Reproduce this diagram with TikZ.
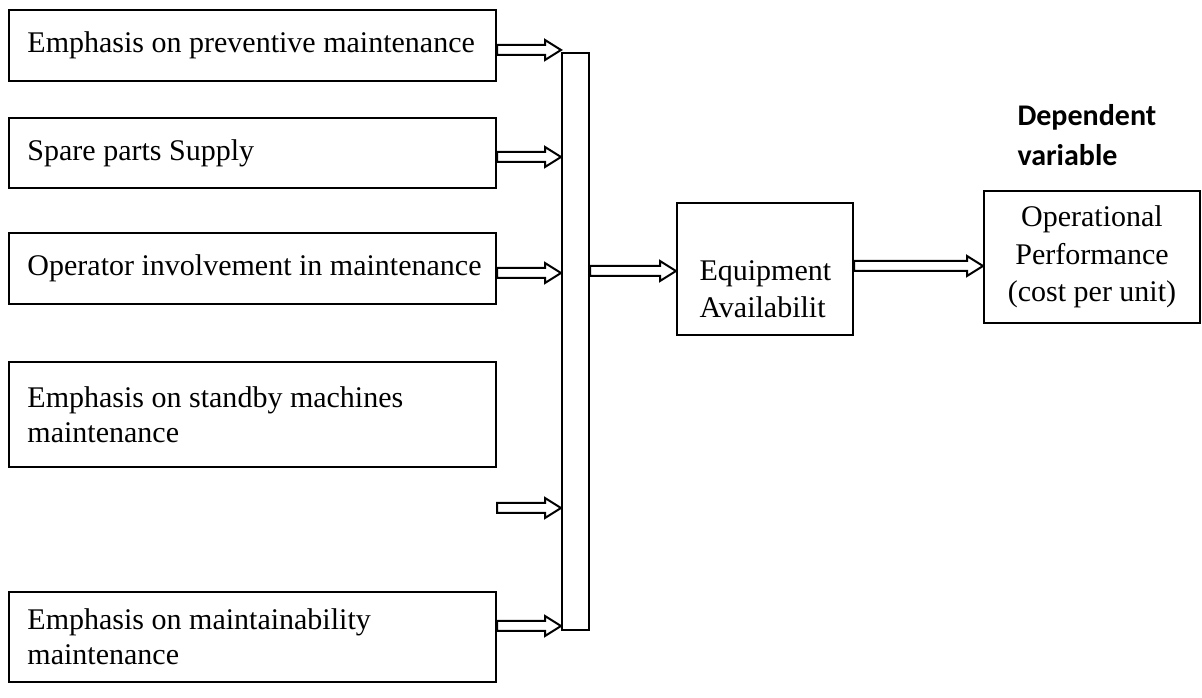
\documentclass[tikz,border=0pt]{standalone}
\usepackage{fontspec}
\setmainfont{Liberation Serif}
\newfontfamily\carlito{Carlito}
\usetikzlibrary{calc}

\tikzset{
  frame/.style={draw, line width=0.8pt, inner sep=0pt},
  factor/.style={frame, minimum width=194.8pt,
    label={[anchor=west, xshift=7.6pt, inner sep=0pt, align=left,
      font=\fontsize{12}{14}\selectfont]west:{#1}}},
  block/.style={frame, align=center, font=\fontsize{12}{15}\selectfont},
  hollow/.style={draw, line width=0.8pt, line join=miter}
}
% hollow block arrow, horizontal, from #1 to tip #2
\newcommand{\blockarrow}[2]{%
  \draw[hollow] ($(#1)+(0,-5)$) -- ($(#2)+(-16,-5)$) -- ($(#2)+(-16,-10)$) -- (#2)
    -- ($(#2)+(-16,10)$) -- ($(#2)+(-16,5)$) -- ($(#1)+(0,5)$) -- cycle;}

\begin{document}
\begin{tikzpicture}[x=0.4pt,y=-0.4pt]
  \useasboundingbox (0,0) rectangle (1202,698);
  % independent factors
  \node[factor={Emphasis on preventive maintenance}, minimum height=28.4pt] (f1) at (252.5,45.5) {};
  \node[factor={Spare parts Supply}, minimum height=28pt] (f2) at (252.5,153) {};
  \node[factor={Operator involvement in maintenance}, minimum height=28.4pt] (f3) at (252.5,268.5) {};
  \node[factor={Emphasis on standby machines\\maintenance}, minimum height=42pt] (f4) at (252.5,414.5) {};
  \node[factor={Emphasis on maintainability\\maintenance}, minimum height=36pt] (f5) at (252.5,637) {};
  % collecting bar
  \node[frame, minimum width=10.8pt, minimum height=230.8pt] (bar) at (575.5,341.5) {};
  \node[frame, minimum width=70.4pt, minimum height=52.8pt,
    label={[anchor=west, xshift=9.2pt, yshift=-8pt, inner sep=0pt, align=left,
      font=\fontsize{12}{15}\selectfont]west:{Equipment\\Availabilit}}] (equip) at (765,269) {};
  \node[block, minimum width=86.4pt, minimum height=52.8pt] (oper) at (1092,257) {Operational\\Performance\\(cost per unit)};
  \node[font=\carlito\bfseries\fontsize{12}{16}\selectfont, align=left, anchor=north west, inner sep=0pt] (dep) at (1017,104) {Dependent\\variable};

  \foreach \n/\y in {1/50,2/157,3/273,4/508,5/626} {
    \coordinate (s\n) at (f\n.east |- 0,\y);
    \coordinate (t\n) at (bar.west |- 0,\y);
    \blockarrow{s\n}{t\n}
  }
  \coordinate (s6) at (bar.east |- 0,271);
  \coordinate (t6) at (equip.west |- 0,271);
  \blockarrow{s6}{t6}
  \coordinate (s7) at (equip.east |- 0,266);
  \coordinate (t7) at (oper.west |- 0,266);
  \blockarrow{s7}{t7}
\end{tikzpicture}
\end{document}
